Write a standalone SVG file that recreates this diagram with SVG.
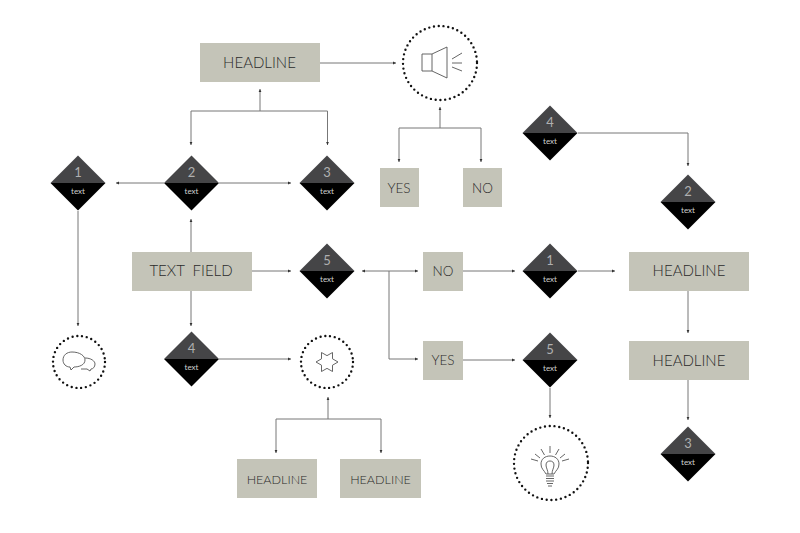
<svg xmlns="http://www.w3.org/2000/svg" width="800" height="533" viewBox="0 0 800 533">
<style>
.box{fill:#c4c4b8}
.bt{font-family:"Lato","Open Sans",sans-serif;font-weight:300;fill:#2b2b2b;text-anchor:middle}
.top{fill:#454547}
.bot{fill:#000}
.num{font-family:"Lato","Open Sans",sans-serif;font-size:13px;fill:#b0b0b0;text-anchor:middle}
.tx{font-family:"Lato","Open Sans",sans-serif;font-size:8px;fill:#d0d0d0;text-anchor:middle}
.ring{fill:none;stroke:#111;stroke-width:2.4;stroke-linecap:round;stroke-dasharray:0 4.800}
.ic{fill:none;stroke:#555;stroke-width:.9;stroke-linejoin:round}
.c{fill:none;stroke:#777;stroke-width:1}
.a{marker-end:url(#h)}
</style>
<defs>
<marker id="h" markerUnits="userSpaceOnUse" markerWidth="4" markerHeight="4" refX="3" refY="2" orient="auto"><path d="M0 .6L3 2L0 3.400Z" fill="#333"/></marker>
<g id="dia"><path class="top" d="M-27.5 0L0-27.5L27.5 0Z"/><path class="bot" d="M-27.5 0L0 27.5L27.5 0Z"/></g>
</defs>
<rect width="800" height="533" fill="#fff"/>
<g id="connectors">
<path class="c a" d="M320 63H396"/>
<path class="c a" d="M260 111V89"/>
<path class="c a" d="M260 111H191V145"/>
<path class="c a" d="M260 111H327.500V145"/>
<path class="c a" d="M440 128V107"/>
<path class="c a" d="M440 128H399V162"/>
<path class="c a" d="M440 128H481V162"/>
<path class="c a" d="M164 183H116"/>
<path class="c a" d="M219 183H291"/>
<path class="c a" d="M78 211V326"/>
<path class="c a" d="M191 252V219"/>
<path class="c a" d="M191 291V326"/>
<path class="c a" d="M252 271H291"/>
<path class="c a" d="M219 359H291"/>
<path class="c a" d="M328 419V397"/>
<path class="c a" d="M328 419H276V453"/>
<path class="c a" d="M328 419H381V453"/>
<path class="c a" d="M389 271H362"/>
<path class="c a" d="M389 271H418"/>
<path class="c a" d="M389 271V359H418"/>
<path class="c a" d="M463 271H515"/>
<path class="c a" d="M578 271H615"/>
<path class="c a" d="M463 360H515"/>
<path class="c a" d="M550 388V418"/>
<path class="c a" d="M578 133H688V166"/>
<path class="c a" d="M688 291V333"/>
<path class="c a" d="M688 380V420"/>
</g>
<g id="headline-top"><rect class="box" x="200" y="43" width="120" height="39"/><text class="bt" x="259.500" y="68" font-size="15">HEADLINE</text></g>
<g id="speaker"><circle class="ring" cx="440" cy="63" r="37"/><path class="ic" d="M422 54H432V71H422ZM432 54L447 47V78L432 71M452 59L462 53M452 63H462M452 67L462 71"/></g>
<g id="yes-top"><rect class="box" x="380" y="168" width="39" height="39"/><text class="bt" x="399" y="193" font-size="13.500">YES</text></g>
<g id="no-top"><rect class="box" x="463" y="168" width="39" height="39"/><text class="bt" x="482.500" y="193" font-size="13.500">NO</text></g>
<g id="d-1a" transform="translate(78 183)"><use href="#dia"/><text class="num" y="-6">1</text><text class="tx" y="11">text</text></g>
<g id="d-2a" transform="translate(191.500 183)"><use href="#dia"/><text class="num" y="-6">2</text><text class="tx" y="11">text</text></g>
<g id="d-3a" transform="translate(327 183)"><use href="#dia"/><text class="num" y="-6">3</text><text class="tx" y="11">text</text></g>
<g id="text-field"><rect class="box" x="132" y="252" width="120" height="39"/><text class="bt" x="191" y="276" font-size="15" xml:space="preserve">TEXT  FIELD</text></g>
<g id="d-5a" transform="translate(327 271)"><use href="#dia"/><text class="num" y="-6">5</text><text class="tx" y="11">text</text></g>
<g id="d-4a" transform="translate(191.500 359)"><use href="#dia"/><text class="num" y="-6">4</text><text class="tx" y="11">text</text></g>
<g id="chat"><circle class="ring" cx="79" cy="362" r="26"/><path class="ic" d="M72 352C80 352 85 356 85 360C85 365 79 367 74 367L71 370L70 367C66 367 63 364 63 360C63 355 67 352 72 352ZM85 358C91 358 95 361 95 364C95 367 93 369 91 369L90 371L87 369H81"/></g>
<g id="star"><circle class="ring" cx="327" cy="362" r="26"/><path class="ic" d="M338 362L332.500 365.200L332.500 371.500L327 368.350L321.500 371.500L321.500 365.200L316 362L321.500 358.800L321.500 352.500L327 355.650L332.500 352.500L332.500 358.800Z"/></g>
<g id="headline-b1"><rect class="box" x="237" y="459" width="80" height="39"/><text class="bt" x="277" y="484" font-size="12.500">HEADLINE</text></g>
<g id="headline-b2"><rect class="box" x="340" y="459" width="81" height="39"/><text class="bt" x="380.500" y="484" font-size="12.500">HEADLINE</text></g>
<g id="no-mid"><rect class="box" x="423" y="252" width="40" height="39"/><text class="bt" x="443" y="276" font-size="13.500">NO</text></g>
<g id="yes-mid"><rect class="box" x="423" y="341" width="40" height="39"/><text class="bt" x="443" y="365" font-size="13.500">YES</text></g>
<g id="d-1b" transform="translate(550 271)"><use href="#dia"/><text class="num" y="-6">1</text><text class="tx" y="11">text</text></g>
<g id="d-5b" transform="translate(550 360)"><use href="#dia"/><text class="num" y="-6">5</text><text class="tx" y="11">text</text></g>
<g id="bulb"><circle class="ring" cx="551" cy="463" r="37"/><path class="ic" d="M546 474C544 470 541 469 541 464C541 459 545 456 550 456C555 456 559 459 559 464C559 469 556 470 554 474ZM548 474C548 470 546 468 546 465C546 462 548 461 550 461C552 461 554 462 554 465C554 468 552 470 552 474M546 476H554M546 478.500H554M546 481H554M547 483.500H553M548 486H552M550 446V453M541 449L544.500 455M559 449L555.500 455M535 454L540 458M565 454L560 458M531 459L538 461M569 459L562 461"/></g>
<g id="d-4c" transform="translate(550 133)"><use href="#dia"/><text class="num" y="-6">4</text><text class="tx" y="11">text</text></g>
<g id="d-2c" transform="translate(688 202)"><use href="#dia"/><text class="num" y="-6">2</text><text class="tx" y="11">text</text></g>
<g id="headline-r1"><rect class="box" x="629" y="252" width="120" height="39"/><text class="bt" x="689" y="276" font-size="15">HEADLINE</text></g>
<g id="headline-r2"><rect class="box" x="629" y="341" width="120" height="39"/><text class="bt" x="689" y="366" font-size="15">HEADLINE</text></g>
<g id="d-3c" transform="translate(688 454)"><use href="#dia"/><text class="num" y="-6">3</text><text class="tx" y="11">text</text></g>
</svg>
